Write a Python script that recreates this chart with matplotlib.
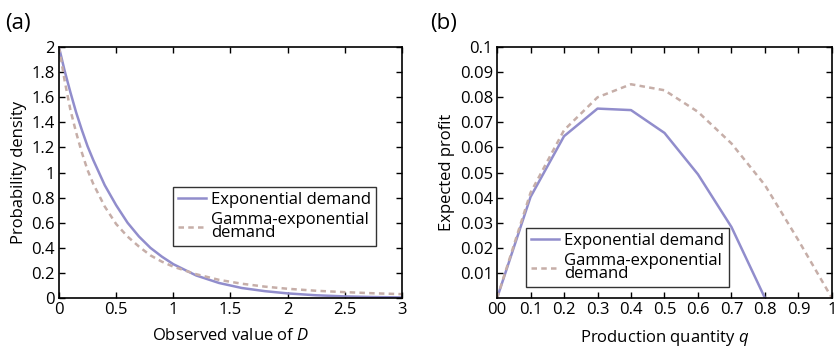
import matplotlib
matplotlib.use('Agg')
import matplotlib.pyplot as plt
from matplotlib.ticker import FormatStrFormatter, FuncFormatter

plt.rcParams['font.family'] = ['Open Sans', 'DejaVu Sans']
plt.rcParams['mathtext.fontset'] = 'custom'
plt.rcParams['mathtext.it'] = 'Open Sans:italic'
plt.rcParams['mathtext.rm'] = 'Open Sans'

# (a) probability densities
d_vals = [0, 0.05, 0.1, 0.15, 0.2, 0.25, 0.3, 0.4, 0.5, 0.6, 0.7, 0.8, 0.9, 1.0, 1.2, 1.4, 1.6, 1.8,
          2.0, 2.25, 2.5, 2.75, 3.0]
exp_density = [2.0, 1.81, 1.64, 1.48, 1.34, 1.21, 1.10, 0.90, 0.74, 0.60, 0.49, 0.40, 0.33, 0.27, 0.18,
               0.12, 0.08, 0.055, 0.037, 0.022, 0.013, 0.008, 0.005]
gamma_density = [2.0, 1.73, 1.50, 1.32, 1.16, 1.02, 0.91, 0.73, 0.59, 0.49, 0.41, 0.34, 0.29, 0.25, 0.19,
                 0.145, 0.114, 0.091, 0.074, 0.058, 0.047, 0.038, 0.031]

# (b) expected profit
q_exp = [0, 0.1, 0.2, 0.3, 0.4, 0.5, 0.6, 0.7, 0.8]
profit_exp = [0, 0.0403, 0.0645, 0.0755, 0.0749, 0.0658, 0.0493, 0.0283, 0.0]
q_gamma = [0, 0.1, 0.2, 0.3, 0.4, 0.5, 0.6, 0.7, 0.8, 0.9, 1.0]
profit_gamma = [0, 0.042, 0.0669, 0.080, 0.0852, 0.0828, 0.0742, 0.0616, 0.045, 0.023, 0.0]

labels = ['Exponential demand', 'Gamma-exponential\ndemand']
c_exp = '#918dcc'
c_gamma = '#c6aea8'
fs = 12
dash = (0, (2.2, 1.7))

fig = plt.figure(figsize=(8.34, 3.49), dpi=100)
ax1 = fig.add_axes([0.0707, 0.146, 0.4113, 0.719])
ax2 = fig.add_axes([0.596, 0.146, 0.4015, 0.719])

ax1.plot(d_vals, exp_density, color=c_exp, lw=1.8, label=labels[0])
ax1.plot(d_vals, gamma_density, color=c_gamma, lw=1.8, ls=dash, label=labels[1])
ax1.set_xlim(0, 3)
ax1.set_ylim(0, 2)
ax1.set_xticks([0, 0.5, 1, 1.5, 2, 2.5, 3])
ax1.set_yticks([0, 0.2, 0.4, 0.6, 0.8, 1, 1.2, 1.4, 1.6, 1.8, 2])
ax1.xaxis.set_major_formatter(FormatStrFormatter('%g'))
ax1.yaxis.set_major_formatter(FormatStrFormatter('%g'))
ax1.set_xlabel('Observed value of $D$', fontsize=fs, labelpad=7)
ax1.set_ylabel('Probability density', fontsize=fs, labelpad=3)

ax2.plot(q_exp, profit_exp, color=c_exp, lw=1.8, label=labels[0])
ax2.plot(q_gamma, profit_gamma, color=c_gamma, lw=1.8, ls=dash, label=labels[1])
ax2.set_xlim(0, 1)
ax2.set_ylim(0, 0.1)
ax2.set_xticks([0, 0.1, 0.2, 0.3, 0.4, 0.5, 0.6, 0.7, 0.8, 0.9, 1])
ax2.set_yticks([0.01, 0.02, 0.03, 0.04, 0.05, 0.06, 0.07, 0.08, 0.09, 0.1])
ax2.xaxis.set_major_formatter(FuncFormatter(lambda v, p: '00' if v == 0 else '%g' % v))
ax2.yaxis.set_major_formatter(FormatStrFormatter('%g'))
ax2.set_xlabel('Production quantity $q$', fontsize=fs, labelpad=7)
ax2.set_ylabel('Expected profit', fontsize=fs, labelpad=3)

for ax in (ax1, ax2):
    ax.tick_params(direction='in', length=4, width=1, top=True, right=True, labelsize=fs, pad=3)
    for s in ax.spines.values():
        s.set_linewidth(1.2)

leg_pos = [(0.2074, 0.4642), (0.6307, 0.3467)]
for ax, pos in zip((ax1, ax2), leg_pos):
    leg = ax.legend(loc='upper left', bbox_to_anchor=pos, bbox_transform=fig.transFigure,
                    fontsize=fs, frameon=True, fancybox=False, handlelength=1.7,
                    handletextpad=0.3, borderpad=0.3, labelspacing=0.25, borderaxespad=0)
    leg.get_frame().set_edgecolor('black')
    leg.get_frame().set_linewidth(1.0)
    for t in leg.get_texts():
        t.set_linespacing(0.75)

fig.text(0.006, 0.918, '(a)', fontsize=16)
fig.text(0.516, 0.918, '(b)', fontsize=16)

plt.savefig('out.png', dpi=100)
